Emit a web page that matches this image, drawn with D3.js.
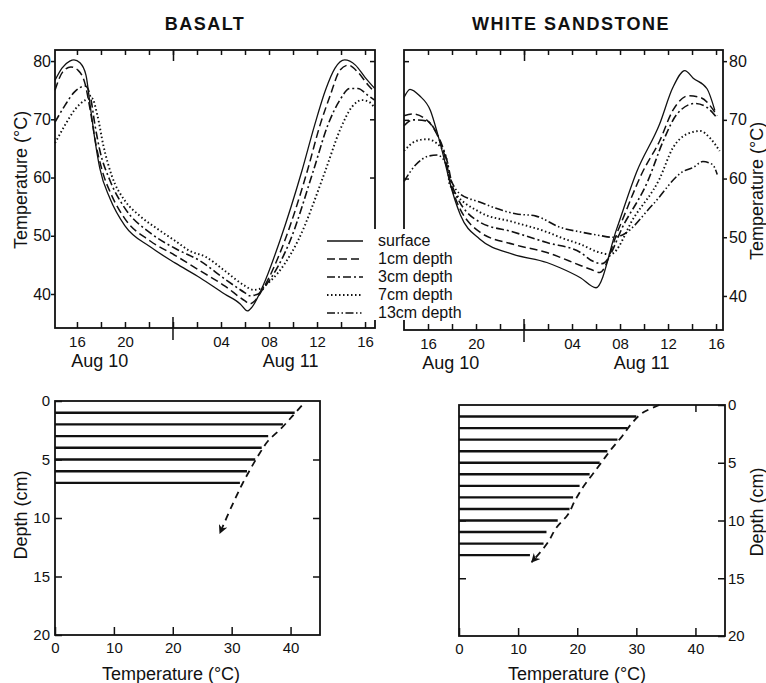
<!DOCTYPE html>
<html>
<head>
<meta charset="utf-8">
<script src="https://cdn.jsdelivr.net/npm/d3@7"></script>
<style>
body { margin: 0; background: #fff; }
svg { font-family: "Liberation Sans", Arial, sans-serif; }
</style>
</head>
<body>
<svg id="chart" width="766" height="683"></svg>
<script>
/**********************************************
 * data
 **********************************************/
const panelTitles = ['BASALT', 'WHITE SANDSTONE']
const seriesNames = ['surface', '1cm depth', '3cm depth', '7cm depth', '13cm depth']

// hours counted from Aug 10 00:00
const hourTicks = [16, 18, 20, 22, 24, 26, 28, 30, 32, 34, 36, 38, 40]
const hourTickLabels = { 16: '16', 20: '20', 28: '04', 32: '08', 36: '12', 40: '16' }
const midnight = [24]
const dateLabels = ['Aug 10', 'Aug 11']
const dateLabelHours = [17.9, 33.8]
const tempTicks = [40, 50, 60, 70, 80]

// [hour, temperature °C]
const basaltSurface = [[14.17, 76.7], [14.75, 78.8], [15.4, 80.0], [15.75, 80.2], [16.25, 79.7], [16.75, 77.6], [17.1, 72.4], [17.5, 66.4], [17.9, 61.6], [18.75, 56.4], [20, 51.7], [22.1, 48.1], [24.2, 45.3], [26.25, 42.8], [28.3, 40], [29.6, 38.3], [30.2, 37.1], [30.6, 37.8], [31.5, 41.4], [32.9, 49.1], [34.75, 61.2], [35.8, 69], [36.7, 75], [37.5, 78.8], [38.3, 80.2], [39.2, 79.3], [40, 77.2], [40.8, 75.3]]
const basalt1cm = [[14.17, 75], [14.8, 78.1], [15.5, 79], [16.1, 78.4], [16.7, 75.9], [17.1, 71.6], [17.6, 65.5], [18.1, 61.2], [18.9, 56.9], [20, 52.9], [22.1, 49.1], [24.2, 46.6], [26.25, 44], [28.3, 41.4], [30, 38.8], [30.4, 38.3], [30.8, 38.8], [31.5, 40.9], [33.3, 49.1], [35.2, 61.2], [36.25, 69], [37.1, 74.1], [37.9, 78.4], [38.6, 79.3], [39.4, 78.1], [40.25, 75.9], [40.8, 74.7]]
const basalt3cm = [[14.17, 69.5], [15, 72.4], [15.8, 74.7], [16.7, 75.7], [17.1, 74.1], [17.5, 69], [17.9, 64.7], [18.75, 59.5], [20, 54.7], [22.1, 50.5], [24.2, 47.8], [26.25, 45.7], [28.3, 42.6], [30, 40.2], [30.4, 39.7], [31.1, 40], [31.7, 41.4], [33.75, 49.1], [35.7, 61.2], [36.9, 69], [37.9, 73.3], [38.75, 75.3], [39.4, 75.3], [40.25, 74.1], [40.8, 73.3]]
const basalt7cm = [[14.17, 65.9], [15, 69], [15.8, 71.6], [16.7, 73.3], [17.25, 73.6], [17.7, 70.7], [18.2, 65.5], [18.9, 60.3], [20, 56], [21.25, 53.4], [22.9, 50.9], [24.2, 49.1], [25.4, 47.4], [26.7, 46.4], [28.3, 44], [30, 41.4], [30.7, 40.7], [31.25, 40.9], [32.1, 42.2], [34.4, 49.1], [36.7, 61.2], [37.9, 68.1], [38.9, 72.1], [39.75, 73.3], [40.4, 72.9], [40.8, 71.9]]

const sandSurface = [[14, 73.8], [14.5, 75.2], [15.3, 74.1], [16.2, 71.6], [16.8, 67.6], [17.4, 62.9], [17.8, 59.5], [18.7, 53.8], [20.3, 49.7], [23.1, 47.1], [25.9, 45.7], [27, 44.8], [28.7, 43.1], [30, 41.4], [31.7, 51.3], [33.4, 61.2], [35.3, 69.3], [36.4, 75.5], [37.4, 78.4], [38.1, 77.1], [39.25, 75.3], [39.9, 71.6]]
const sand1cm = [[14, 70.7], [14.75, 71], [15.75, 70.2], [16.6, 68.1], [17.4, 63.8], [18, 58.3], [20.3, 50.9], [23.1, 48.8], [25.9, 47.4], [28.7, 45.2], [29.6, 44.5], [30.3, 44], [31.9, 51.5], [33.9, 61.2], [35.3, 66.4], [36.4, 71.6], [37.7, 74.1], [38.7, 73.8], [40.1, 70.7]]
const sand3cm = [[14, 69], [14.75, 70], [15.9, 69.8], [16.75, 67.6], [17.6, 62.9], [18.1, 58.3], [20.3, 52.6], [23.1, 50.9], [25.9, 49.1], [28.7, 47.4], [29.75, 45.9], [30.5, 45.5], [32.4, 52.5], [34.3, 59.5], [35.6, 66.4], [36.75, 71], [38.25, 72.8], [39.25, 72.1], [40.1, 70.3]]
const sand7cm = [[14, 64.7], [15, 66.4], [15.9, 66.7], [17, 65.5], [17.6, 62.9], [17.8, 59], [20.3, 54.3], [23.1, 52.6], [25.9, 50.9], [27, 50], [28.7, 48.8], [30.3, 47.4], [31.2, 47.1], [33.2, 53.5], [35.3, 60], [36.4, 65.2], [37.6, 67.6], [38.7, 68.1], [39.5, 66.9], [40.3, 64.7]]
const sand13cm = [[14, 59.5], [15, 62.4], [16, 63.8], [16.75, 64], [17.4, 62.9], [17.9, 59.8], [18.6, 57.5], [20.3, 56], [23.3, 54], [25, 53.6], [27, 51.7], [28.7, 50.9], [30.3, 50.3], [31.4, 50], [32.2, 50.4], [34.7, 55.5], [37.25, 61.2], [38.1, 61.9], [38.9, 62.9], [39.7, 62.4], [40.1, 60.7]]

// temperature profiles with depth
const depthTicks = [0, 5, 10, 15, 20]
const profileTempTicks = [0, 10, 20, 30, 40]
const basaltDepths = [1, 2, 3, 4, 5, 6, 7]
const basaltProfile = [40.7, 38.7, 36.2, 35.1, 34, 32.6, 31.4]
const basaltTrend = [[41.9, 0.4], [40.3, 1.3], [38.3, 2.4], [36.2, 3.4], [34.6, 4.6], [33.2, 5.8], [31.7, 7.2], [30, 9], [28, 11.3]]
const sandDepths = [1, 2, 3, 4, 5, 6, 7, 8, 9, 10, 11, 12, 13]
const sandProfile = [30.0, 28.5, 26.8, 25.1, 23.8, 22.1, 20.4, 19.3, 18.7, 16.7, 14.8, 14.3, 12.0]
const sandTrend = [[33.9, 0], [31, 0.7], [29.2, 1.6], [27.6, 2.7], [25.8, 3.8], [24.2, 4.9], [22.6, 6], [21, 7.1], [19.6, 8.3], [18.4, 9.5], [16.5, 10.6], [14.9, 12], [12.3, 13.6]]

/**********************************************
 * layout and styles
 **********************************************/
const dashes = [null, '8,4', '8,3,2,3', '1.5,2.5', '8,2.5,1.5,2.5,1.5,2.5']
const widths = [1.3, 1.5, 1.6, 1.9, 1.6]
const ink = '#111'

const svg = d3.select('#chart')

const timePanels = [
    { x0: 55, x1: 375, y0: 50, y1: 328, hMin: 14.17, hMax: 40.83, tMin: 34.16, tMax: 81.9, side: 'left', titleX: 205, labelX: 27, labelY: 180,
      series: [basaltSurface, basalt1cm, basalt3cm, basalt7cm] },
    { x0: 404, x1: 723, y0: 50, y1: 330, hMin: 14, hMax: 40.58, tMin: 34.2, tMax: 81.9, side: 'right', titleX: 571, labelX: 763, labelY: 191,
      series: [sandSurface, sand1cm, sand3cm, sand7cm, sand13cm] }
]

const profilePanels = [
    { x0: 55, x1: 320, y0: 401, y1: 635, side: 'left', labelX: 27, labelY: 515, titleX: 171,
      depths: basaltDepths, temps: basaltProfile, trend: basaltTrend, topTicks: [] },
    { x0: 459, x1: 725, y0: 405, y1: 636, side: 'right', labelX: 763, labelY: 512, titleX: 577,
      depths: sandDepths, temps: sandProfile, trend: sandTrend, topTicks: [40] }
]

function styleAxis(g, size) {
    g.attr('font-family', null).attr('font-size', size)
    g.select('.domain').remove()
    g.selectAll('line').attr('stroke', ink).attr('stroke-width', 1.5)
    g.selectAll('text').attr('fill', ink)
    return g
}

function frame(p) {
    svg.append('rect')
        .attr('x', p.x0).attr('y', p.y0)
        .attr('width', p.x1 - p.x0).attr('height', p.y1 - p.y0)
        .attr('fill', 'none').attr('stroke', ink).attr('stroke-width', 1.8)
}

function rotatedLabel(x, y, txt) {
    svg.append('text')
        .attr('transform', `translate(${x},${y}) rotate(-90)`)
        .attr('text-anchor', 'middle')
        .attr('font-size', 18)
        .attr('fill', ink)
        .text(txt)
}

/**********************************************
 * top: temperature against time
 **********************************************/
function drawTimePanel(p, i) {
    const x = d3.scaleLinear().domain([p.hMin, p.hMax]).range([p.x0, p.x1])
    const y = d3.scaleLinear().domain([p.tMin, p.tMax]).range([p.y1, p.y0])
    const line = d3.line()
        .x(d => x(d[0]))
        .y(d => y(d[1]))
        .curve(d3.curveMonotoneX)

    p.series.forEach((s, k) => {
        svg.append('path')
            .datum(s)
            .attr('d', line)
            .attr('fill', 'none')
            .attr('stroke', ink)
            .attr('stroke-width', widths[k])
            .attr('stroke-dasharray', dashes[k])
    })

    frame(p)

    // time ticks, inside on top and bottom
    styleAxis(svg.append('g').attr('transform', `translate(0,${p.y0})`)
        .call(d3.axisTop(x).tickValues(hourTicks).tickSize(-5).tickFormat('')), 15)
    styleAxis(svg.append('g').attr('transform', `translate(0,${p.y0})`)
        .call(d3.axisTop(x).tickValues(midnight).tickSize(-11).tickFormat('')), 15)
    styleAxis(svg.append('g').attr('transform', `translate(0,${p.y1})`)
        .call(d3.axisBottom(x).tickValues(hourTicks).tickSize(-6).tickPadding(8)
            .tickFormat(h => hourTickLabels[h] || '')), 15)
    svg.append('line')
        .attr('x1', x(midnight[0])).attr('x2', x(midnight[0]))
        .attr('y1', p.y1 - 11).attr('y2', p.y1 + 12)
        .attr('stroke', ink).attr('stroke-width', 1.5)

    // temperature axis outside, inner ticks on the other border
    const outer = p.side === 'left' ? d3.axisLeft(y) : d3.axisRight(y)
    const inner = p.side === 'left' ? d3.axisRight(y) : d3.axisLeft(y)
    styleAxis(svg.append('g').attr('transform', `translate(${p.side === 'left' ? p.x0 : p.x1},0)`)
        .call(outer.tickValues(tempTicks).tickSize(4).tickPadding(p.side === 'left' ? 0 : 2)), 16)
    styleAxis(svg.append('g').attr('transform', `translate(${p.side === 'left' ? p.x1 : p.x0},0)`)
        .call(inner.tickValues(tempTicks).tickSize(-5).tickFormat('')), 16)

    svg.selectAll(null)
        .data(dateLabels)
        .join('text')
        .attr('x', (d, k) => x(dateLabelHours[k]))
        .attr('y', p.y1 + 39)
        .attr('text-anchor', 'middle')
        .attr('font-size', 18)
        .attr('fill', ink)
        .text(d => d)

    svg.append('text')
        .attr('x', p.titleX).attr('y', 30)
        .attr('text-anchor', 'middle')
        .attr('font-size', 18).attr('font-weight', 'bold')
        .attr('letter-spacing', 1.5)
        .attr('fill', ink)
        .text(panelTitles[i])

    rotatedLabel(p.labelX, p.labelY, 'Temperature (°C)')
}

function drawLegend() {
    svg.append('rect')
        .attr('x', 322).attr('y', 229)
        .attr('width', 140).attr('height', 91)
        .attr('fill', '#fff')
    const rows = svg.selectAll('g.legend')
        .data(seriesNames)
        .join('g')
        .attr('class', 'legend')
        .attr('transform', (d, k) => `translate(0,${241 + k * 18})`)
    rows.append('line')
        .attr('x1', 327).attr('x2', 363)
        .attr('stroke', ink)
        .attr('stroke-width', (d, k) => widths[k])
        .attr('stroke-dasharray', (d, k) => dashes[k])
    rows.append('text')
        .attr('x', 378).attr('y', 5)
        .attr('font-size', 16)
        .attr('fill', ink)
        .text(d => d)
}

/**********************************************
 * bottom: temperature profiles with depth
 **********************************************/
function drawProfilePanel(p, i) {
    const x = d3.scaleLinear().domain([0, 45]).range([p.x0, p.x1])
    const y = d3.scaleLinear().domain([0, 20]).range([p.y0, p.y1])

    svg.selectAll(null)
        .data(p.depths)
        .join('line')
        .attr('x1', x(0))
        .attr('x2', (d, k) => x(p.temps[k]))
        .attr('y1', d => y(d))
        .attr('y2', d => y(d))
        .attr('stroke', ink)
        .attr('stroke-width', 2.4)

    const trendLine = d3.line()
        .x(d => x(d[0]))
        .y(d => y(d[1]))
        .curve(d3.curveCatmullRom)
    svg.append('path')
        .datum(p.trend)
        .attr('d', trendLine)
        .attr('fill', 'none')
        .attr('stroke', ink)
        .attr('stroke-width', 1.8)
        .attr('stroke-dasharray', '7,5')
        .attr('marker-end', 'url(#arrow)')

    frame(p)

    styleAxis(svg.append('g').attr('transform', `translate(0,${p.y1})`)
        .call(d3.axisBottom(x).tickValues(profileTempTicks).tickSize(-8).tickPadding(7)), 15)
    if (p.topTicks.length) {
        styleAxis(svg.append('g').attr('transform', `translate(0,${p.y0})`)
            .call(d3.axisTop(x).tickValues(p.topTicks).tickSize(-7).tickFormat('')), 15)
    }

    const outer = p.side === 'left' ? d3.axisLeft(y) : d3.axisRight(y)
    const inner = p.side === 'left' ? d3.axisRight(y) : d3.axisLeft(y)
    styleAxis(svg.append('g').attr('transform', `translate(${p.side === 'left' ? p.x0 : p.x1},0)`)
        .call(outer.tickValues(depthTicks).tickSize(-7).tickPadding(p.side === 'left' ? 5 : 3)), 15)
    styleAxis(svg.append('g').attr('transform', `translate(${p.side === 'left' ? p.x1 : p.x0},0)`)
        .call(inner.tickValues([5, 10, 15]).tickSize(-7).tickFormat('')), 15)

    svg.append('text')
        .attr('x', p.titleX).attr('y', 680)
        .attr('text-anchor', 'middle')
        .attr('font-size', 18)
        .attr('fill', ink)
        .text('Temperature (°C)')

    rotatedLabel(p.labelX, p.labelY, 'Depth (cm)')
}

svg.append('defs').append('marker')
    .attr('id', 'arrow')
    .attr('viewBox', '0 0 10 10')
    .attr('refX', 9).attr('refY', 5)
    .attr('markerUnits', 'userSpaceOnUse')
    .attr('markerWidth', 11).attr('markerHeight', 9)
    .attr('orient', 'auto')
    .append('path')
    .attr('d', 'M0,0 L10,5 L0,10 L3,5 z')
    .attr('fill', ink)

timePanels.forEach(drawTimePanel)
drawLegend()
profilePanels.forEach(drawProfilePanel)
</script>
</body>
</html>
